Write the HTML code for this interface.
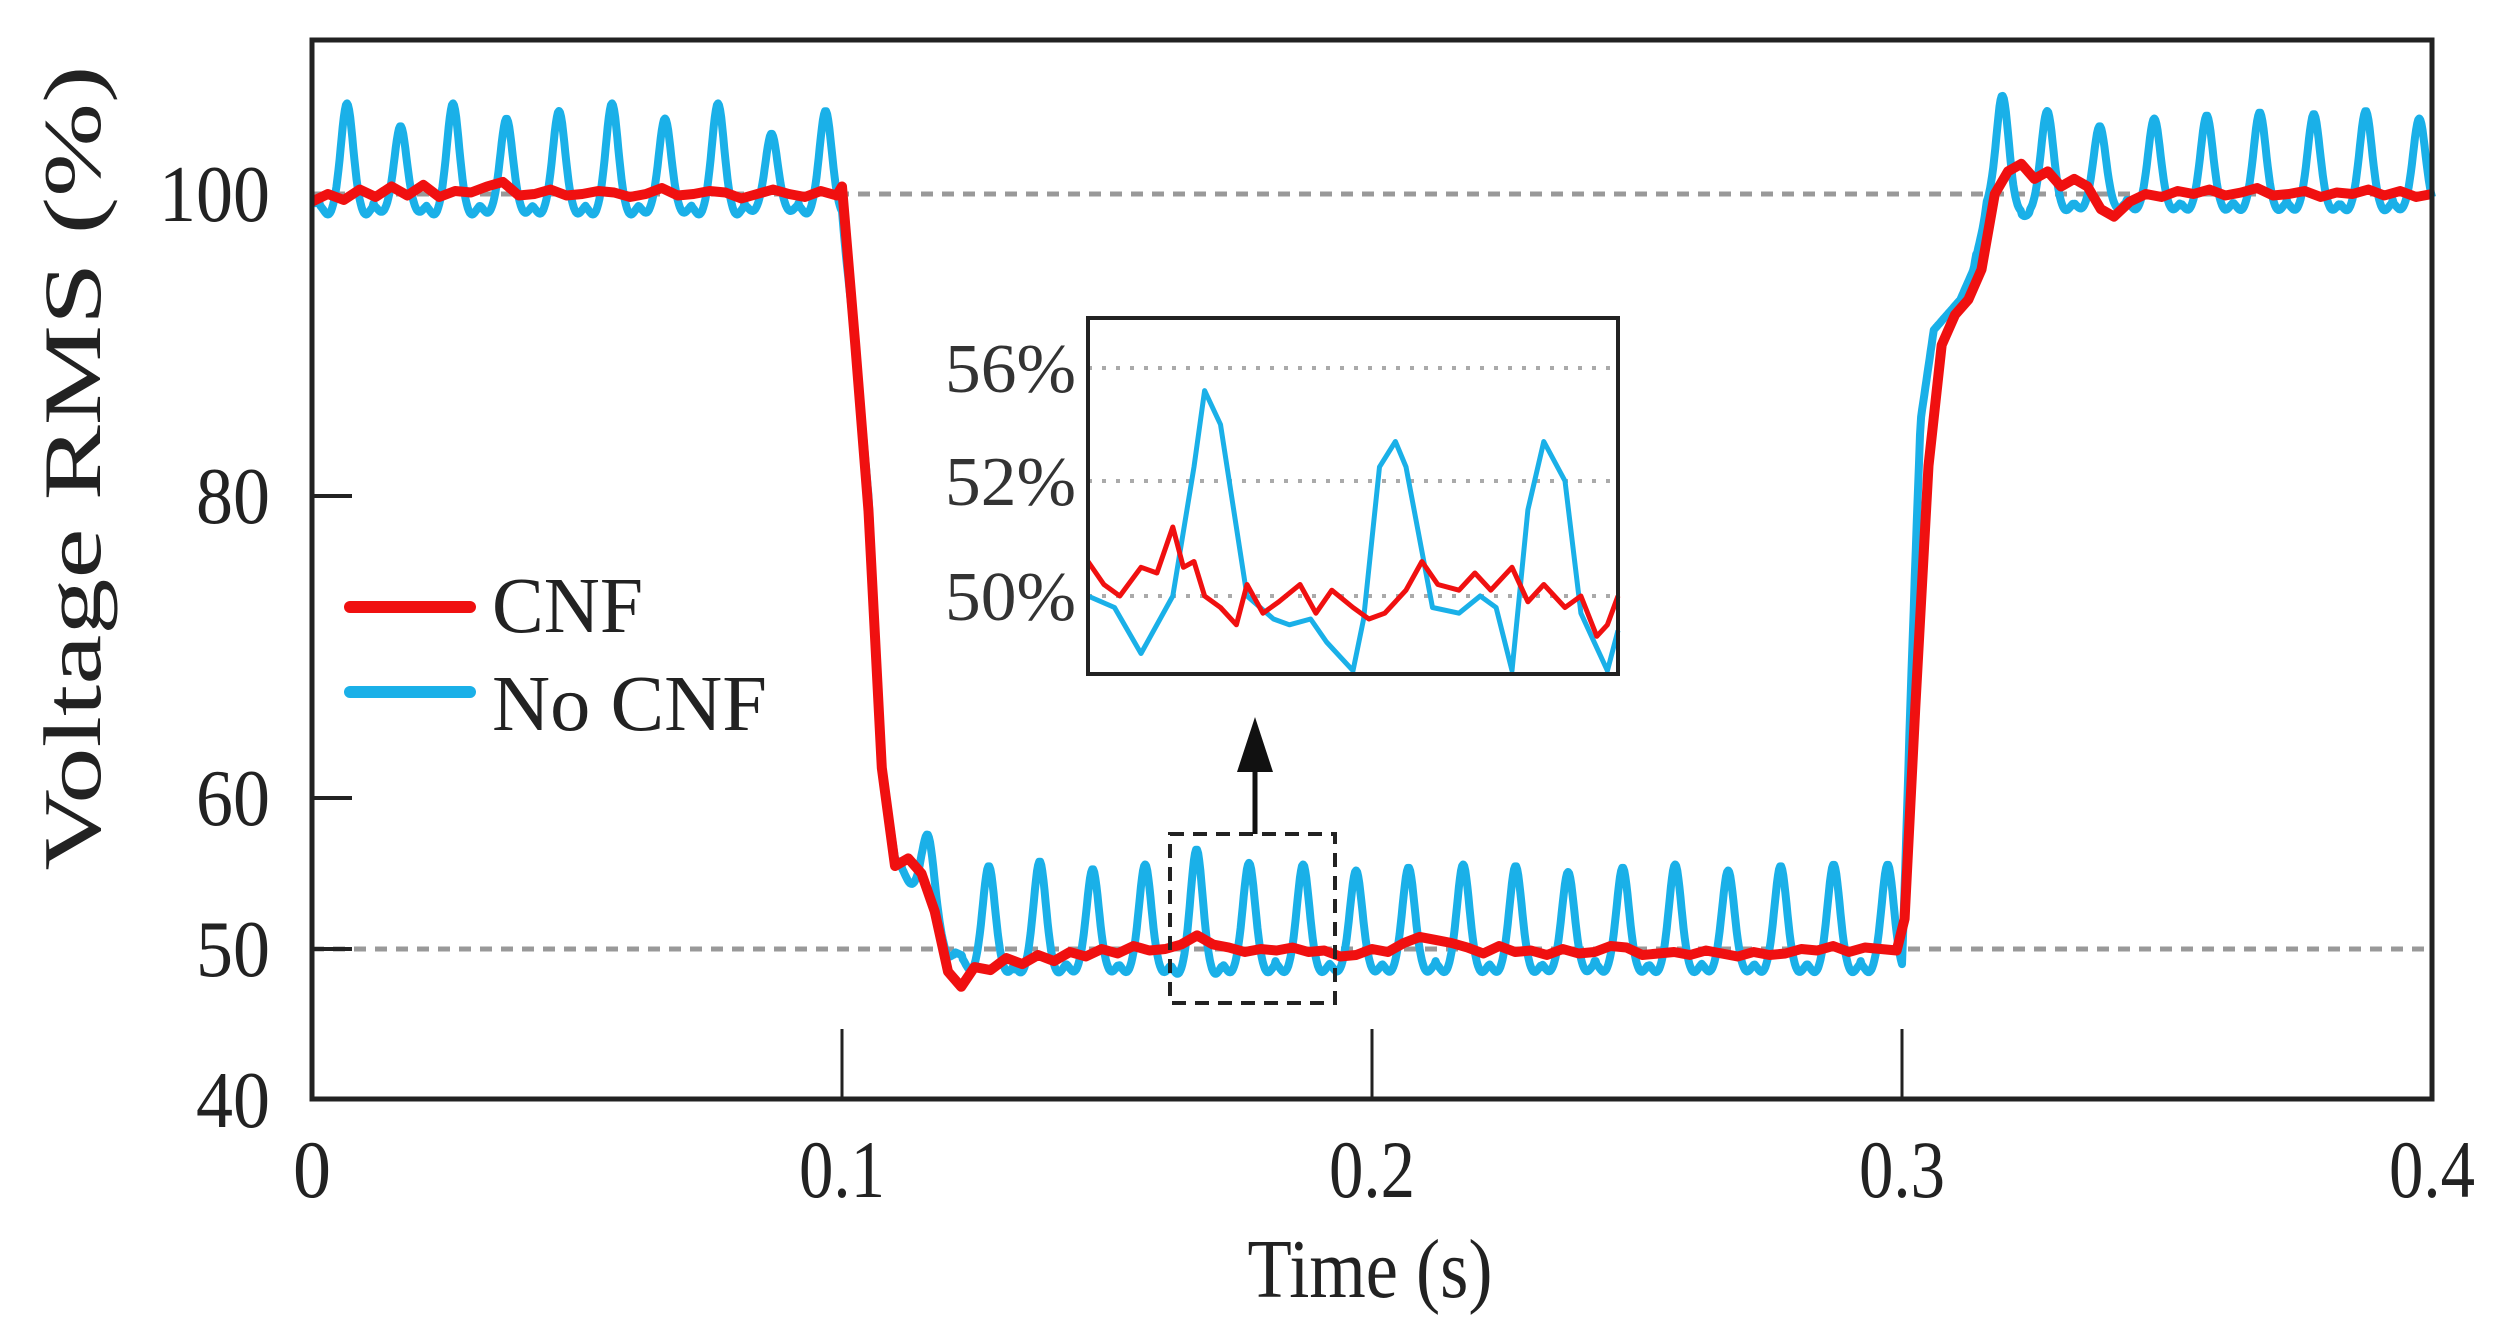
<!DOCTYPE html>
<html><head><meta charset="utf-8"><style>
html,body{margin:0;padding:0;background:#fff;}
svg{display:block;font-family:"Liberation Serif",serif;}
</style></head><body>
<svg id="chart" width="2497" height="1336" viewBox="0 0 2497 1336" xmlns="http://www.w3.org/2000/svg">
<g id="grid"></g>
<g id="series"></g>
<g id="axes"></g>
<g id="inset"></g>
<g id="legend"></g>
</svg>
<script>
// ---- data ----
const xTicks = [0, 0.1, 0.2, 0.3, 0.4];
const xTickLabels = ["0", "0.1", "0.2", "0.3", "0.4"];
const yTicks = [100, 80, 60, 50, 40];
const yTickLabels = ["100", "80", "60", "50", "40"];
const refLines = [100, 50];
// CNF knots (time s, value %)
const cnfT = [0,0.003,0.006,0.009,0.012,0.015,0.018,0.021,0.024,0.027,0.030,0.033,0.036,0.039,0.042,0.045,0.048,0.051,0.054,0.057,0.060,0.063,0.066,0.069,0.072,0.075,0.078,0.081,0.084,0.087,0.090,0.093,0.096,0.099,0.1,
0.1025,0.105,0.1075,0.11,0.1125,0.115,0.1175,0.12,0.1225,0.125,
0.128,0.131,0.134,0.137,0.140,0.143,0.146,0.149,0.152,0.155,
0.158,0.161,0.164,0.167,0.170,0.173,0.176,0.179,0.182,0.185,
0.188,0.191,0.194,0.197,0.200,0.203,0.206,0.209,0.212,0.215,
0.218,0.221,0.224,0.227,0.230,0.233,0.236,0.239,0.242,0.245,
0.248,0.251,0.254,0.257,0.260,0.263,0.266,0.269,0.272,0.275,
0.278,0.281,0.284,0.287,0.290,0.293,0.296,0.299,
0.3005,0.3025,0.305,0.3075,0.31,0.3125,0.315,0.3175,0.32,0.3225,0.325,0.3275,0.33,0.3325,0.335,0.3375,0.34,
0.343,0.346,0.349,0.352,0.355,0.358,0.361,0.364,0.367,0.370,0.373,0.376,0.379,0.382,0.385,0.388,0.391,0.394,0.397,0.4];
const cnfV = [99.5,100,99.6,100.3,99.8,100.5,99.9,100.6,99.8,100.2,100.1,100.5,100.8,99.9,100,100.3,99.9,100,100.2,100.1,99.8,100,100.4,99.9,100,100.2,100.1,99.7,100,100.3,100,99.8,100.2,99.9,100.5,
90,79,62,55.5,56,55,52.5,48.5,47.5,48.8,
48.6,49.4,49,49.6,49.2,49.8,49.5,50,49.7,50.2,
49.9,50,50.3,50.9,50.3,50.1,49.8,50,49.9,50.1,
49.8,49.9,49.5,49.6,50,49.8,50.4,50.8,50.6,50.4,
50.1,49.7,50.2,49.8,49.9,49.6,50,49.7,49.8,50.2,
50.1,49.6,49.7,49.8,49.6,49.9,49.7,49.5,49.8,49.6,
49.7,50,49.9,50.2,49.8,50.1,50,49.9,
52,66,82,90,92,93,95,100,101.5,102,101,101.5,100.5,101,100.5,99,98.5,
99.5,100,99.8,100.2,100,100.3,99.9,100.1,100.4,99.9,100,100.2,99.8,100.1,100,100.3,99.9,100.2,99.8,100];
// No CNF baseline knots (time, value) and ripple peaks (time, height)
const noCnfBaseT = [0,0.1,0.1025,0.105,0.1075,0.11,0.115,0.12,0.125,0.3,0.3015,0.3035,0.306,0.3085,0.311,0.3135,0.316,0.3185,0.321,0.4];
const noCnfBaseV = [99.4,99.4,90,80,62,56,54,50,49.2,49.2,66,85,91,92,93,95,100,100.5,99.6,99.6];
const peakTimes = [0.0066,0.0167,0.0266,0.0367,0.0466,0.0566,0.0666,0.0766,0.0867,0.0969,0.1163,0.1277,0.1373,0.1473,0.1572,0.1669,0.1768,0.1870,0.1970,0.2069,0.2172,0.2271,0.2370,0.2473,0.2572,0.2672,0.2771,0.2871,0.2973,0.3190,0.3274,0.3373,0.3476,0.3575,0.3675,0.3777,0.3875,0.3976];
const peakHeights = [106,104.5,106,105,105.5,106,105,106,104,105.5,57.5,55.5,55.8,55.3,55.6,56.6,55.7,55.6,55.2,55.4,55.6,55.5,55.1,55.4,55.6,55.2,55.5,55.6,55.6,106.5,105.5,104.5,105,105.2,105.4,105.3,105.5,105];
// Inset (normalized time 0..1 across 0.165–0.195 s)
const insetBlueT = [0,0.05,0.1,0.16,0.2,0.22,0.25,0.3,0.35,0.38,0.42,0.45,0.5,0.52,0.55,0.58,0.6,0.65,0.7,0.74,0.77,0.8,0.83,0.86,0.9,0.93,0.95,0.98,1];
const insetBlueV = [50,49.8,49,50,52.5,55.2,54,50,49.6,49.5,49.6,49.2,48.7,49.6,52.5,53.4,52.5,49.8,49.7,50,49.8,48.7,51.5,53.4,52,49.7,49.3,48.7,49.4];
const insetRedT = [0,0.03,0.06,0.1,0.13,0.16,0.18,0.2,0.22,0.25,0.28,0.3,0.33,0.36,0.4,0.43,0.46,0.5,0.53,0.56,0.6,0.63,0.66,0.7,0.73,0.76,0.8,0.83,0.86,0.9,0.93,0.96,0.98,1];
const insetRedV = [50.6,50.2,50,50.5,50.4,51.2,50.5,50.6,50,49.8,49.5,50.2,49.7,49.9,50.2,49.7,50.1,49.8,49.6,49.7,50.1,50.6,50.2,50.1,50.4,50.1,50.5,49.9,50.2,49.8,50,49.3,49.5,50];
const insetTicks = [56, 52, 50];
const insetTickLabels = ["56%", "52%", "50%"];

// ---- layout ----
const PL=312, PR=2432, PT=40, PB=1099;
const xs = t => PL + (t/0.4)*(PR-PL);
const ys = v => 949 - (v-50)*15.1;
const IL=1088, IR=1618, IT=318, IB=674;
const ixs = f => IL + f*(IR-IL);
const iys = v => v>=52 ? 481 - (v-52)*28.25 : 596 - (v-50)*57.5;
const NS="http://www.w3.org/2000/svg";
function mk(tag, attrs, parent, text){const e=document.createElementNS(NS,tag);for(const k in attrs)e.setAttribute(k,attrs[k]);if(text!==undefined)e.textContent=text;parent.appendChild(e);return e;}
const grid=document.getElementById('grid'), series=document.getElementById('series'), axes=document.getElementById('axes'), inset=document.getElementById('inset'), legend=document.getElementById('legend');

refLines.forEach(v=>{
  const l=mk('line',{x1:PL,x2:PR,y1:ys(v),y2:ys(v),stroke:'#999','stroke-width':5,'stroke-dasharray':'12 9'},grid);
  
  
});

function interp(ts, vs, t){ if(t<=ts[0])return vs[0]; for(let i=1;i<ts.length;i++){ if(t<=ts[i]){const f=(t-ts[i-1])/(ts[i]-ts[i-1]);return vs[i-1]+f*(vs[i]-vs[i-1]);} } return vs[vs.length-1]; }
// No CNF
let bp=[];
for(let t=0;t<=0.4+1e-9;t+=0.0002){
  let v=interp(noCnfBaseT,noCnfBaseV,t);
  for(let k=0;k<peakTimes.length;k++){
    const d=t-peakTimes[k];
    if(Math.abs(d)<0.005){
      const b=interp(noCnfBaseT,noCnfBaseV,peakTimes[k]);
      const amp=peakHeights[k]-b;
      v+=amp*Math.exp(-(d*d)/(2*0.0011*0.0011));
      v-=amp*0.12*Math.exp(-((d-0.0035)*(d-0.0035))/(2*0.0009*0.0009));
      v-=amp*0.12*Math.exp(-((d+0.0035)*(d+0.0035))/(2*0.0009*0.0009));
    }
  }
  bp.push(xs(t).toFixed(1)+','+ys(v).toFixed(1));
}
const blue=mk('polyline',{points:bp.join(' '),fill:'none',stroke:'#1ab0e8','stroke-width':8,'stroke-linejoin':'round'},series);


const rp=cnfV.map((v,i)=>xs(cnfT[i]).toFixed(1)+','+ys(v).toFixed(1));
const red=mk('polyline',{points:rp.join(' '),fill:'none',stroke:'#f01010','stroke-width':10,'stroke-linejoin':'round'},series);



// axes frame
const frame=mk('rect',{x:PL,y:PT,width:PR-PL,height:PB-PT,fill:'none',stroke:'#222','stroke-width':5},axes);


xTicks.forEach((t,i)=>{
  if(i>0&&i<xTicks.length-1){const tk=mk('line',{x1:xs(t),x2:xs(t),y1:PB,y2:PB-70,stroke:'#222','stroke-width':3},axes);
  
  }
  const s=xTickLabels[i];
  const tx=mk('text',{x:xs(t),y:1197,'text-anchor':'middle','font-size':82,fill:'#222',textLength:s.length===1?38:86,lengthAdjust:'spacingAndGlyphs'},axes,s);
  
  
});
yTicks.forEach((v,i)=>{
  if(v!==100&&v!==40){const tk=mk('line',{x1:PL,x2:PL+40,y1:ys(v),y2:ys(v),stroke:'#222','stroke-width':4},axes);
  
  }
  const s=yTickLabels[i];
  const tx=mk('text',{x:270,y:ys(v)+27,'text-anchor':'end','font-size':80,fill:'#222',textLength:s.length*37,lengthAdjust:'spacingAndGlyphs'},axes,s);
  
  
});
const xt=mk('text',{x:1370,y:1297,'text-anchor':'middle','font-size':84,fill:'#222',textLength:245,lengthAdjust:'spacingAndGlyphs'},axes,'Time (s)');


const yt=mk('text',{x:0,y:0,'text-anchor':'middle','font-size':82,fill:'#222',textLength:805,lengthAdjust:'spacingAndGlyphs',transform:'translate(100,468) rotate(-90)'},axes,'Voltage RMS (%)');



// zoom box + arrow
const zb=mk('rect',{x:1170,y:834,width:165,height:169,fill:'none',stroke:'#222','stroke-width':4,'stroke-dasharray':'14 9'},axes);


const ar=mk('line',{x1:1255,x2:1255,y1:834,y2:770,stroke:'#111','stroke-width':5},axes);


const ah=mk('polygon',{points:'1255,717 1237,772 1273,772',fill:'#111'},axes);



// inset
const ibg=mk('rect',{x:IL,y:IT,width:IR-IL,height:IB-IT,fill:'#fff'},inset);


insetTicks.forEach((v,i)=>{
  const g=mk('line',{x1:IL,x2:IR,y1:iys(v),y2:iys(v),stroke:'#aaa','stroke-width':4,'stroke-dasharray':'4 10'},inset);
  
  
  const tx=mk('text',{x:1076,y:iys(v)+24,'text-anchor':'end','font-size':70,fill:'#333',textLength:131,lengthAdjust:'spacingAndGlyphs'},inset,insetTickLabels[i]);
  
  
});
const ib=mk('polyline',{points:insetBlueT.map((f,i)=>ixs(f).toFixed(1)+','+iys(insetBlueV[i]).toFixed(1)).join(' '),fill:'none',stroke:'#1ab0e8','stroke-width':5,'stroke-linejoin':'round'},inset);


const ir=mk('polyline',{points:insetRedT.map((f,i)=>ixs(f).toFixed(1)+','+iys(insetRedV[i]).toFixed(1)).join(' '),fill:'none',stroke:'#f01010','stroke-width':5,'stroke-linejoin':'round'},inset);


const ifr=mk('rect',{x:IL,y:IT,width:IR-IL,height:IB-IT,fill:'none',stroke:'#222','stroke-width':4},inset);



// legend
const l1=mk('line',{x1:350,x2:470,y1:607,y2:607,stroke:'#f01010','stroke-width':12,'stroke-linecap':'round'},legend);


const t1=mk('text',{x:492,y:632,'font-size':79,fill:'#222',textLength:151,lengthAdjust:'spacingAndGlyphs'},legend,'CNF');


const l2=mk('line',{x1:350,x2:470,y1:692,y2:692,stroke:'#1ab0e8','stroke-width':12,'stroke-linecap':'round'},legend);


const t2=mk('text',{x:492,y:730,'font-size':79,fill:'#222',textLength:275,lengthAdjust:'spacingAndGlyphs'},legend,'No CNF');


</script>
</body></html>
